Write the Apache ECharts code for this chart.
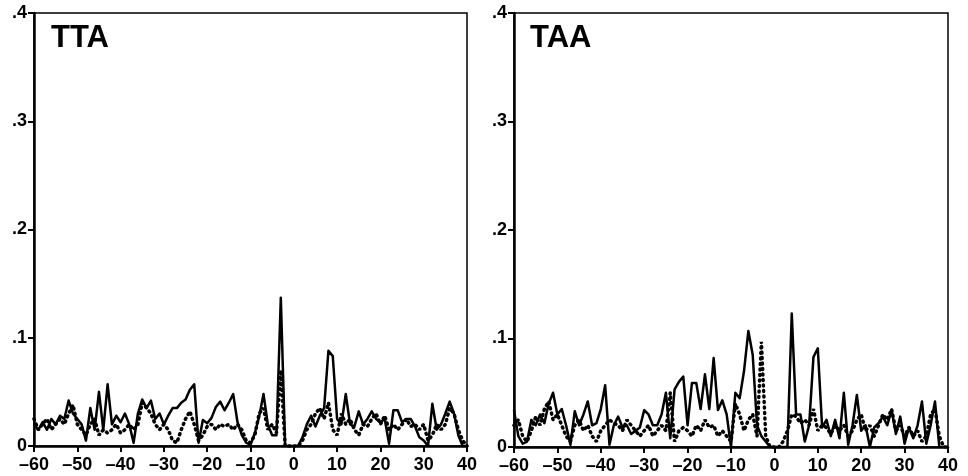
<!DOCTYPE html>
<html>
<head>
<meta charset="utf-8">
<script src="https://cdn.jsdelivr.net/npm/echarts@6/dist/echarts.min.js"></script>
<style>
  html, body { margin: 0; padding: 0; background: #fff; }
  #chart { width: 968px; height: 476px; }
</style>
</head>
<body>
<div id="chart"></div>
<script>
// positions -60 .. 40
let positions = [];
for (let p = -60; p <= 40; p++) positions.push(p);

let xTicks = [-60, -50, -40, -30, -20, -10, 0, 10, 20, 30, 40];
let yTicks = ['0', '.1', '.2', '.3', '.4'];
let panelNames = ['TTA', 'TAA'];

let ttaSolid = [
    0.020, 0.015, 0.022, 0.015, 0.025, 0.020, 0.028, 0.025, 0.042, 0.030,
    0.025, 0.020, 0.005, 0.035, 0.015, 0.050, 0.015, 0.057, 0.020, 0.028,
    0.022, 0.030, 0.020, 0.003, 0.030, 0.043, 0.035, 0.042, 0.025, 0.030,
    0.020, 0.028, 0.035, 0.035, 0.040, 0.043, 0.052, 0.057, 0.003, 0.024,
    0.021, 0.026, 0.036, 0.041, 0.033, 0.040, 0.048, 0.022, 0.010, 0.003,
    0.001, 0.012, 0.027, 0.048, 0.020, 0.010, 0.010, 0.137, 0.000, 0.000,
    0.000, 0.000, 0.008, 0.020, 0.028, 0.018, 0.028, 0.035, 0.088, 0.083,
    0.025, 0.020, 0.048, 0.020, 0.018, 0.032, 0.020, 0.025, 0.032, 0.025,
    0.022, 0.025, 0.002, 0.033, 0.033, 0.022, 0.025, 0.025, 0.018, 0.008,
    0.005, 0.000, 0.039, 0.015, 0.020, 0.030, 0.041, 0.030, 0.010, 0.000,
    0.000
];
let ttaDotted = [
    0.025, 0.015, 0.020, 0.025, 0.015, 0.020, 0.025, 0.020, 0.030, 0.038,
    0.020, 0.015, 0.010, 0.020, 0.025, 0.010, 0.015, 0.012, 0.015, 0.020,
    0.012, 0.015, 0.020, 0.015, 0.020, 0.040, 0.035, 0.030, 0.020, 0.015,
    0.020, 0.015, 0.005, 0.003, 0.015, 0.025, 0.032, 0.020, 0.005, 0.010,
    0.018, 0.020, 0.015, 0.020, 0.018, 0.020, 0.015, 0.020, 0.015, 0.005,
    0.003, 0.010, 0.030, 0.035, 0.015, 0.020, 0.012, 0.070, 0.000, 0.000,
    0.000, 0.000, 0.005, 0.015, 0.020, 0.030, 0.035, 0.025, 0.040, 0.015,
    0.010, 0.030, 0.020, 0.025, 0.015, 0.010, 0.020, 0.018, 0.025, 0.030,
    0.020, 0.028, 0.015, 0.020, 0.015, 0.020, 0.025, 0.018, 0.020, 0.015,
    0.020, 0.005, 0.010, 0.020, 0.015, 0.020, 0.035, 0.030, 0.015, 0.005,
    0.000
];
let taaSolid = [
    0.034, 0.010, 0.003, 0.005, 0.025, 0.020, 0.030, 0.022, 0.040, 0.050,
    0.030, 0.035, 0.020, 0.002, 0.033, 0.020, 0.030, 0.042, 0.020, 0.022,
    0.035, 0.057, 0.002, 0.020, 0.028, 0.018, 0.020, 0.012, 0.015, 0.018,
    0.034, 0.030, 0.020, 0.020, 0.030, 0.050, 0.008, 0.053, 0.060, 0.065,
    0.020, 0.059, 0.059, 0.035, 0.067, 0.035, 0.082, 0.034, 0.043, 0.030,
    0.000, 0.050, 0.045, 0.070, 0.107, 0.085, 0.020, 0.010, 0.005, 0.000,
    0.000, 0.000, 0.000, 0.000, 0.123, 0.030, 0.030, 0.005, 0.020, 0.083,
    0.091, 0.018, 0.025, 0.010, 0.025, 0.008, 0.050, 0.002, 0.020, 0.048,
    0.015, 0.020, 0.000, 0.018, 0.022, 0.028, 0.020, 0.034, 0.012, 0.028,
    0.003, 0.018, 0.008, 0.020, 0.042, 0.003, 0.020, 0.042, 0.000, 0.000,
    0.000
];
let taaDotted = [
    0.020, 0.025, 0.010, 0.005, 0.015, 0.028, 0.020, 0.035, 0.042, 0.025,
    0.030, 0.020, 0.010, 0.005, 0.020, 0.025, 0.015, 0.020, 0.010, 0.005,
    0.015, 0.020, 0.025, 0.022, 0.020, 0.015, 0.025, 0.020, 0.015, 0.010,
    0.015, 0.020, 0.010, 0.015, 0.020, 0.015, 0.050, 0.005, 0.015, 0.018,
    0.015, 0.010, 0.020, 0.015, 0.025, 0.018, 0.020, 0.010, 0.015, 0.010,
    0.005, 0.040, 0.030, 0.015, 0.025, 0.030, 0.010, 0.097, 0.010, 0.000,
    0.000, 0.000, 0.005, 0.015, 0.030, 0.028, 0.022, 0.025, 0.020, 0.035,
    0.015, 0.020, 0.018, 0.012, 0.020, 0.015, 0.020, 0.010, 0.015, 0.025,
    0.030, 0.015, 0.020, 0.010, 0.020, 0.030, 0.025, 0.035, 0.015, 0.020,
    0.010, 0.018, 0.010, 0.015, 0.005, 0.010, 0.030, 0.035, 0.010, 0.000,
    0.000
];

let font = 'Liberation Sans, Arial, sans-serif';

function pairs(arr) {
    return positions.map(function (p, i) { return [p, arr[i]]; });
}

function xAxisFor(idx) {
    return {
        type: 'value',
        gridIndex: idx,
        min: -60,
        max: 40,
        interval: 10,
        axisLine: { show: true, onZero: false, lineStyle: { color: '#000', width: 2.5 } },
        axisTick: { show: true, inside: false, length: 6, lineStyle: { color: '#000', width: 2 } },
        axisLabel: {
            color: '#000',
            fontFamily: font,
            fontSize: 18,
            fontWeight: 'bold',
            margin: 10,
            formatter: function (v) {
                return xTicks.indexOf(v) < 0 ? '' : (v < 0 ? '\u2013' + Math.abs(v) : String(v));
            }
        },
        splitLine: { show: false }
    };
}

function yAxisFor(idx) {
    return {
        type: 'value',
        gridIndex: idx,
        min: 0,
        max: 0.4,
        interval: 0.1,
        axisLine: { show: true, onZero: false, lineStyle: { color: '#000', width: 2.5 } },
        axisTick: { show: true, inside: false, length: 6, lineStyle: { color: '#000', width: 2 } },
        axisLabel: {
            color: '#000',
            fontFamily: font,
            fontSize: 18,
            fontWeight: 'bold',
            margin: 7,
            formatter: function (v) {
                return yTicks[Math.round(v * 10)];
            }
        },
        splitLine: { show: false }
    };
}

function lineSeries(idx, arr, dotted) {
    return {
        type: 'line',
        xAxisIndex: idx,
        yAxisIndex: idx,
        data: pairs(arr),
        symbol: 'none',
        silent: true,
        z: dotted ? 3 : 2,
        lineStyle: dotted
            ? { color: '#000', width: 3.5, type: [1, 4.5], cap: 'round' }
            : { color: '#000', width: 2.5, join: 'round' }
    };
}

let option = {
    backgroundColor: '#fff',
    animation: false,
    title: [
        {
            text: panelNames[0], left: 46, top: 18,
            textStyle: { color: '#000', fontFamily: font, fontSize: 31, fontWeight: 900 }
        },
        {
            text: panelNames[1], left: 525, top: 18,
            textStyle: { color: '#000', fontFamily: font, fontSize: 31, fontWeight: 900 }
        }
    ],
    grid: [
        { left: 34, top: 13, width: 433, height: 433, show: true, borderColor: '#000', borderWidth: 1.5, backgroundColor: 'transparent' },
        { left: 514, top: 13, width: 434, height: 434, show: true, borderColor: '#000', borderWidth: 1.5, backgroundColor: 'transparent' }
    ],
    xAxis: [xAxisFor(0), xAxisFor(1)],
    yAxis: [yAxisFor(0), yAxisFor(1)],
    series: [
        lineSeries(0, ttaSolid, false),
        lineSeries(0, ttaDotted, true),
        lineSeries(1, taaSolid, false),
        lineSeries(1, taaDotted, true)
    ]
};

var chart = echarts.init(document.getElementById('chart'));
chart.setOption(option);
</script>
</body>
</html>
